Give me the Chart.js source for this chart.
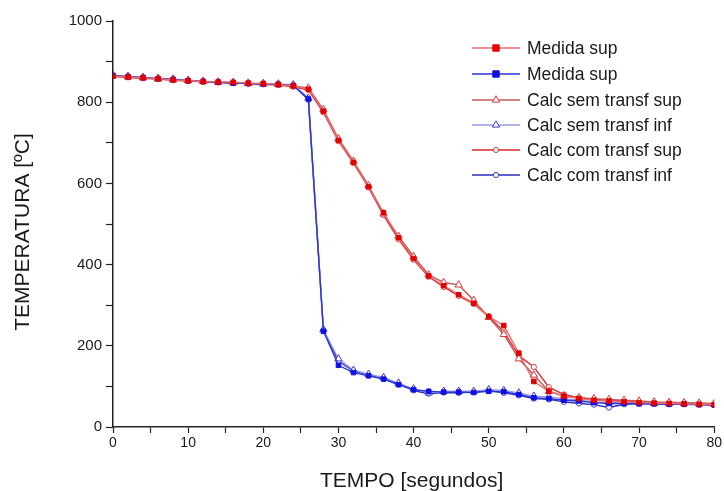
<!DOCTYPE html>
<html>
<head>
<meta charset="utf-8">
<script src="https://cdn.jsdelivr.net/npm/chart.js@4"></script>
<style>
  html, body { margin: 0; padding: 0; background: #fff; }
  #wrap { width: 724px; height: 491px; }
</style>
</head>
<body>
<div id="wrap"><canvas id="c" width="724" height="491"></canvas></div>
<script>
// Tempo (s) — one reading every 2 seconds
const tempo = [0,2,4,6,8,10,12,14,16,18,20,22,24,26,28,30,32,34,36,38,40,
               42,44,46,48,50,52,54,56,58,60,62,64,66,68,70,72,74,76,78,80];

// Temperaturas (ºC)
const medidaSupVermelho = [864,862,860,858,855,853,851,850,849,847,846,844,840,832,778,706,652,592,528,466,415,
                           372,348,326,305,272,250,182,112,88,76,70,66,64,62,60,59,58,57,56,55];
const medidaSupAzul     = [866,863,861,858,856,853,851,849,847,846,845,844,841,808,236,152,134,126,118,104,92,
                           88,86,86,85,88,87,80,72,70,66,64,60,58,58,57,57,56,56,55,54];
const calcSemSup        = [865,862,860,857,855,853,851,849,848,846,845,843,840,835,782,710,655,595,525,470,420,
                           375,356,350,312,270,228,168,128,88,76,72,70,68,66,64,62,61,60,59,58];
const calcSemInf        = [866,864,861,859,857,854,852,850,849,847,846,845,843,810,240,168,140,130,122,108,94,
                           84,88,88,88,92,90,84,76,74,70,66,62,60,60,60,58,58,58,57,56];
const calcComSup        = [864,861,859,857,854,852,850,849,847,846,844,842,838,830,775,704,650,590,522,462,412,
                           370,345,323,303,272,235,176,148,98,80,72,68,66,64,62,60,59,58,57,56];
const calcComInf        = [865,863,860,858,856,853,851,849,848,846,845,844,842,806,238,162,138,128,120,106,90,
                           82,85,84,86,90,84,78,70,68,62,58,55,48,56,58,57,56,56,55,54];

const yTicks = [0,200,400,600,800,1000];
const xTicks = [0,10,20,30,40,50,60,70,80];

const FONT = '"Liberation Sans", Arial, sans-serif';
const pts = vals => tempo.map((t, i) => ({ x: t, y: vals[i] }));

const series = [
  { label: 'Medida sup',            data: medidaSupVermelho, line: '#ec6a6a', mark: '#e00000', style: 'rect',     fill: true,  r: 3.2 },
  { label: 'Medida sup',            data: medidaSupAzul,     line: '#2a36d8', mark: '#1010e0', style: 'rect',     fill: true,  r: 3.2 },
  { label: 'Calc sem transf sup',   data: calcSemSup,        line: '#c85858', mark: '#d83838', style: 'triangle', fill: false, r: 4.2 },
  { label: 'Calc sem transf inf',   data: calcSemInf,        line: '#9a9ae6', mark: '#3a3ad0', style: 'triangle', fill: false, r: 4.2 },
  { label: 'Calc com transf sup',   data: calcComSup,        line: '#d82a2a', mark: '#d84040', style: 'circle',   fill: false, r: 2.6 },
  { label: 'Calc com transf inf',   data: calcComInf,        line: '#2c2cb8', mark: '#4040d0', style: 'circle',   fill: false, r: 2.6 }
];

const datasets = series.map(s => ({
  label: s.label,
  data: pts(s.data),
  borderColor: s.line,
  borderWidth: 1.4,
  pointStyle: s.style,
  pointRadius: s.r,
  pointBorderWidth: 1,
  pointBorderColor: s.mark,
  pointBackgroundColor: s.fill ? s.mark : '#ffffff',
  tension: 0
}));

// Legend inside the plot (line – marker – line, then the label) and the two axis titles
const annotations = {
  id: 'annotations',
  afterDatasetsDraw(chart) {
    const ctx = chart.ctx;
    const area = chart.chartArea;
    const x0 = 472, x1 = 520, xm = 496, xt = 527;
    const rows = [48, 74, 100, 125, 150, 175];
    ctx.save();
    ctx.font = '17.5px ' + FONT;
    ctx.textBaseline = 'middle';
    ctx.textAlign = 'left';
    series.forEach((s, i) => {
      const y = rows[i];
      ctx.strokeStyle = s.line;
      ctx.lineWidth = 1.4;
      ctx.beginPath();
      ctx.moveTo(x0, y); ctx.lineTo(x1, y);
      ctx.stroke();
      ctx.lineWidth = 1;
      ctx.fillStyle = s.fill ? s.mark : '#ffffff';
      ctx.strokeStyle = s.mark;
      ctx.beginPath();
      if (s.style === 'rect') {
        ctx.rect(xm - s.r, y - s.r, 2 * s.r, 2 * s.r);
      } else if (s.style === 'triangle') {
        const r = s.r;
        ctx.moveTo(xm, y - r);
        ctx.lineTo(xm + r * 0.866, y + r * 0.5);
        ctx.lineTo(xm - r * 0.866, y + r * 0.5);
        ctx.closePath();
      } else {
        ctx.arc(xm, y, s.r, 0, Math.PI * 2);
      }
      ctx.fill();
      ctx.stroke();
      ctx.fillStyle = '#1a1a1a';
      ctx.fillText(s.label, xt, y + 1);
    });

    // axis titles
    ctx.fillStyle = '#1a1a1a';
    ctx.textAlign = 'center';
    ctx.font = '21px ' + FONT;
    ctx.fillText('TEMPO [segundos]', (area.left + area.right) / 2 - 2, 481);
    ctx.translate(23, 232);
    ctx.rotate(-Math.PI / 2);
    ctx.fillText('TEMPERATURA [ºC]', 0, 0);
    ctx.restore();
  }
};

new Chart(document.getElementById('c'), {
  type: 'line',
  data: { datasets },
  plugins: [annotations],
  options: {
    responsive: false,
    animation: false,
    events: [],
    layout: { padding: { top: 21, right: 7, left: 0, bottom: 0 } },
    plugins: { legend: { display: false }, tooltip: { enabled: false } },
    scales: {
      x: {
        type: 'linear',
        min: 0, max: 80,
        afterFit(scale) { scale.height = 64; },
        afterBuildTicks(scale) {
          const t = [];
          for (let v = 0; v <= 80; v += 5) t.push({ value: v });
          scale.ticks = t;
        },
        ticks: {
          autoSkip: false,
          maxRotation: 0,
          padding: 2,
          color: '#1a1a1a',
          font: { family: FONT, size: 14 },
          callback: v => xTicks.includes(v) ? String(v) : ''
        },
        grid: { drawOnChartArea: false, drawTicks: true, tickLength: 6, color: '#222', tickWidth: 1.2 },
        border: { display: true, color: '#222', width: 1.5 },
        title: { display: false }
      },
      y: {
        type: 'linear',
        min: 0, max: 1000,
        afterFit(scale) { scale.width = 113; },
        afterBuildTicks(scale) {
          const t = [];
          for (let v = 0; v <= 1000; v += 100) t.push({ value: v });
          scale.ticks = t;
        },
        ticks: {
          autoSkip: false,
          padding: 4,
          color: '#1a1a1a',
          font: { family: FONT, size: 15 },
          callback: v => yTicks.includes(v) ? String(v) : ''
        },
        grid: { drawOnChartArea: false, drawTicks: true, tickLength: 7, color: '#222', tickWidth: 1.2 },
        border: { display: true, color: '#222', width: 1.5 },
        title: { display: false }
      }
    }
  }
});
</script>
</body>
</html>
